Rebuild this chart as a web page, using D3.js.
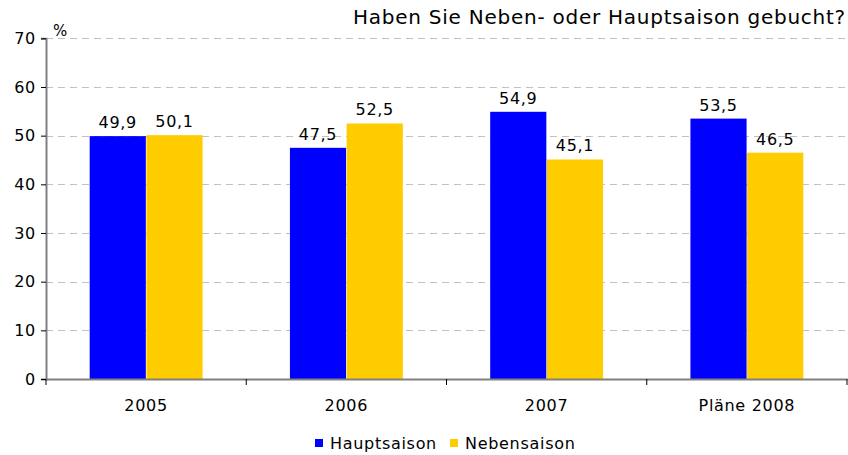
<!DOCTYPE html>
<html>
<head>
<meta charset="utf-8">
<script src="https://cdn.jsdelivr.net/npm/d3@7"></script>
<style>
  body { margin: 0; background: #fff; }
  text { font-family: "DejaVu Sans", Verdana, sans-serif; fill: #000; letter-spacing: 0.7px; }
</style>
</head>
<body>
<div id="chart"></div>
<script>
var categories = ['2005', '2006', '2007', 'Pläne 2008'];
var seriesNames = ['Hauptsaison', 'Nebensaison'];
var hauptsaison = [49.9, 47.5, 54.9, 53.5];
var nebensaison = [50.1, 52.5, 45.1, 46.5];
var yTicks = [0, 10, 20, 30, 40, 50, 60, 70];
var colors = ['#0000ff', '#ffcc00'];

var w = 848, h = 455;
var margin = { left: 46, right: 1, top: 38, bottom: 76 };

var svg = d3.select('#chart').append('svg')
  .attr('width', w)
  .attr('height', h);

var x = d3.scaleBand()
  .domain(categories)
  .range([margin.left, w - margin.right])
  .paddingInner(0)
  .paddingOuter(0);

var inner = d3.scaleBand()
  .domain(seriesNames)
  .range([0, x.bandwidth()])
  .paddingInner(0.01)
  .paddingOuter(0.77);

var y = d3.scaleLinear()
  .domain([0, 70])
  .range([379, 38.3]);

// gridlines
svg.append('g')
  .selectAll('line')
  .data(yTicks.slice(1))
  .enter().append('line')
  .attr('x1', margin.left)
  .attr('x2', w)
  .attr('y1', function(d) { return Math.round(y(d)) + 0.5; })
  .attr('y2', function(d) { return Math.round(y(d)) + 0.5; })
  .attr('stroke', '#c0c0c0')
  .attr('stroke-dasharray', '7,5');

var data = categories.map(function(c, i) {
  return [
    { cat: c, name: seriesNames[0], value: hauptsaison[i] },
    { cat: c, name: seriesNames[1], value: nebensaison[i] }
  ];
});

var groups = svg.append('g').selectAll('g')
  .data(data)
  .enter().append('g')
  .attr('transform', function(d) { return 'translate(' + x(d[0].cat) + ',0)'; });

groups.selectAll('rect')
  .data(function(d) { return d; })
  .enter().append('rect')
  .attr('x', function(d) { return inner(d.name); })
  .attr('width', inner.bandwidth())
  .attr('y', function(d) { return y(d.value); })
  .attr('height', function(d) { return y(0) - y(d.value); })
  .attr('fill', function(d, i) { return colors[i]; });

groups.selectAll('text')
  .data(function(d) { return d; })
  .enter().append('text')
  .attr('x', function(d) { return inner(d.name) + inner.bandwidth() / 2; })
  .attr('y', function(d) { return y(d.value) - 8; })
  .attr('text-anchor', 'middle')
  .attr('font-size', 16)
  .text(function(d) { return d3.format('.1f')(d.value).replace('.', ','); });

// y axis
var yAxis = svg.append('g')
  .attr('transform', 'translate(' + margin.left + ',0)')
  .call(d3.axisLeft(y).tickValues(yTicks).tickSize(5).tickPadding(5));
yAxis.select('.domain').attr('stroke', '#808080').attr('stroke-width', 2);
yAxis.selectAll('.tick line').attr('stroke', '#000');
yAxis.selectAll('.tick text')
  .attr('font-size', 16)
  .attr('font-family', '"DejaVu Sans", Verdana, sans-serif')
  .attr('fill', '#000');

// x axis
var xAxis = svg.append('g')
  .attr('transform', 'translate(0,' + y(0) + ')')
  .call(d3.axisBottom(x).tickSize(0).tickPadding(21));
xAxis.select('.domain').attr('stroke', '#808080').attr('stroke-width', 2);
xAxis.selectAll('.tick text')
  .attr('font-size', 16)
  .attr('font-family', '"DejaVu Sans", Verdana, sans-serif')
  .attr('fill', '#000');

// category separators
xAxis.append('g').selectAll('line')
  .data(categories)
  .enter().append('line')
  .attr('x1', function(d) { return x(d) + x.bandwidth(); })
  .attr('x2', function(d) { return x(d) + x.bandwidth(); })
  .attr('y1', 0)
  .attr('y2', 6)
  .attr('stroke', '#000');
xAxis.append('line')
  .attr('x1', margin.left).attr('x2', margin.left)
  .attr('y1', 0).attr('y2', 6)
  .attr('stroke', '#000');

// title and unit
svg.append('text')
  .attr('x', 846)
  .attr('y', 24)
  .attr('text-anchor', 'end')
  .attr('font-size', 20)
  .style('letter-spacing', '0.75px')
  .text('Haben Sie Neben- oder Hauptsaison gebucht?');

svg.append('text')
  .attr('x', 53)
  .attr('y', 36)
  .attr('font-size', 15)
  .text('%');

// legend
var legend = svg.append('g');
var legendX = [315, 450];
seriesNames.forEach(function(name, i) {
  legend.append('rect')
    .attr('x', legendX[i])
    .attr('y', 439)
    .attr('width', 8)
    .attr('height', 8)
    .attr('fill', colors[i]);
  legend.append('text')
    .attr('x', legendX[i] + 15)
    .attr('y', 449)
    .attr('font-size', 16)
    .text(name);
});
</script>
</body>
</html>
